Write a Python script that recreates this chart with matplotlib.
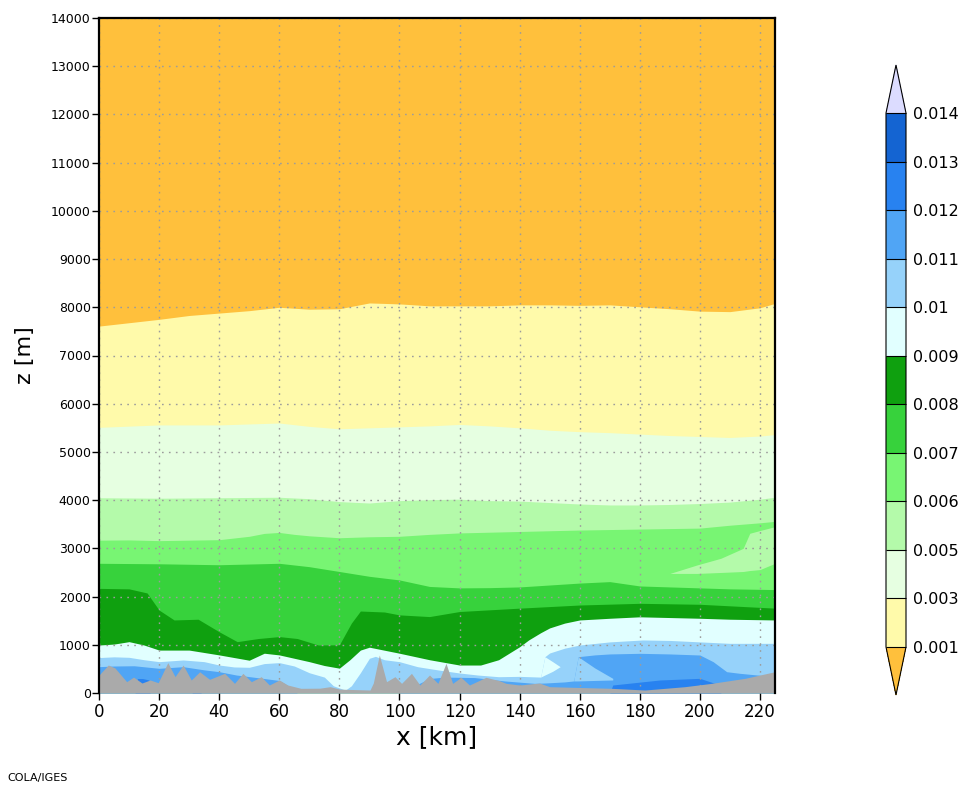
import matplotlib

matplotlib.use("Agg")
import matplotlib.pyplot as plt
from matplotlib.colors import ListedColormap, BoundaryNorm
from matplotlib.cm import ScalarMappable

# contour levels of the colour bar (0.004 is not used)
levels = [0.001, 0.003, 0.005, 0.006, 0.007, 0.008, 0.009, 0.010, 0.011, 0.012, 0.013, 0.014]
level_labels = ["0.001", "0.003", "0.005", "0.006", "0.007", "0.008", "0.009",
                "0.01", "0.011", "0.012", "0.013", "0.014"]
band_colors = ["#fffaaa", "#e6ffe1", "#b4faaa", "#78f573", "#37d23c", "#0fa00f",
               "#e1ffff", "#96d2fa", "#50a5f5", "#2882f0", "#1464d2"]
under_color = "#ffc03c"
over_color = "#dcdcff"
terrain_color = "#aaaaaa"

# heights (m) of each contour line along x (km)
b001_x = [0, 10, 20, 30, 40, 50, 60, 70, 80, 90, 100, 110, 120, 130, 140, 150, 160, 170, 180, 190, 200, 210, 220, 225]
b001_z = [7610, 7680, 7750, 7830, 7880, 7930, 8000, 7960, 7970, 8090, 8070, 8030, 8030, 8030, 8050, 8050, 8040, 8050, 8010, 7970, 7920, 7910, 7990, 8080]

b003_x = [0, 20, 40, 60, 70, 80, 90, 100, 110, 120, 130, 140, 150, 160, 170, 180, 190, 200, 210, 220, 225]
b003_z = [5510, 5560, 5560, 5600, 5530, 5480, 5500, 5520, 5540, 5570, 5540, 5500, 5450, 5420, 5400, 5370, 5340, 5320, 5300, 5330, 5360]

b005_x = [0, 20, 40, 60, 70, 80, 90, 100, 110, 120, 130, 140, 150, 160, 170, 180, 190, 200, 210, 220, 225]
b005_z = [4050, 4040, 4050, 4060, 4030, 3970, 3940, 3990, 4010, 4020, 3990, 3980, 3950, 3920, 3900, 3900, 3910, 3930, 3960, 4020, 4060]

b006_x = [0, 10, 20, 30, 40, 50, 55, 60, 65, 70, 80, 90, 100, 110, 120, 140, 160, 180, 200, 210, 220, 225]
b006_z = [3170, 3175, 3160, 3170, 3180, 3250, 3310, 3330, 3290, 3260, 3220, 3240, 3250, 3290, 3320, 3350, 3380, 3400, 3420, 3480, 3530, 3560]

# drier patch (0.005-0.006) inside the 0.006-0.007 band on the right
patch_x = [190, 199, 207, 214.4, 216.6, 220, 225]
patch_top = [2480, 2655, 2795, 3000, 3313, 3370, 3450]
patch_bottom = [2480, 2480, 2500, 2520, 2540, 2560, 2690]

b007_x = [0, 20, 40, 60, 70, 80, 90, 100, 110, 120, 130, 140, 150, 160, 170, 180, 190, 200, 210, 225]
b007_z = [2690, 2680, 2660, 2690, 2620, 2520, 2420, 2345, 2210, 2180, 2185, 2200, 2240, 2280, 2310, 2220, 2200, 2180, 2160, 2145]

b008_x = [0, 10, 16, 20, 25, 33, 40, 46, 53, 60, 66, 73, 80, 84, 87, 95, 100, 110, 120, 140, 160, 180, 200, 225]
b008_z = [2170, 2160, 2075, 1720, 1515, 1530, 1270, 1065, 1130, 1170, 1130, 995, 1000, 1450, 1700, 1680, 1620, 1585, 1690, 1760, 1825, 1860, 1840, 1760]

b009_x = [0, 5, 10, 15, 20, 30, 40, 50, 55, 60, 70, 75, 80, 83.5, 87, 90, 100, 110, 120, 127, 133, 140, 143, 147, 150, 155, 160, 170, 180, 200, 210, 225]
b009_z = [995, 1015, 1065, 995, 890, 890, 790, 680, 825, 790, 650, 570, 515, 690, 890, 950, 825, 690, 580, 580, 690, 960, 1100, 1250, 1350, 1450, 1515, 1550, 1580, 1550, 1530, 1515]

b010_x = [0, 5, 10, 15, 20, 28, 35, 40, 45, 50, 55, 60, 65, 70, 75, 78, 82, 84, 87, 90, 92, 95, 100, 106, 113, 120, 126, 133, 140, 147, 148.4, 150, 155, 160, 170, 181, 190, 200, 210, 225]
b010_z = [735, 750, 740, 690, 650, 685, 650, 580, 540, 533, 610, 630, 560, 420, 330, 150, 60, 150, 420, 720, 760, 690, 650, 546, 477, 415, 373, 338, 345, 330, 753, 830, 930, 995, 1060, 1100, 1090, 1060, 1030, 1030]

# moist tongue (0.009-0.010) reaching under the 0.010 line near 150 km
tongue_x = [147, 148.4, 151, 153.5]
tongue_top = [330, 753, 650, 546]
tongue_bottom = [330, 373, 450, 546]

b011_x = [0, 5, 11.7, 20, 28, 35, 40, 45.7, 50, 55, 60, 63, 66, 100, 105, 110, 115, 125, 135, 145, 148.4, 155, 158, 159.5, 165, 170, 180, 190, 200, 204.4, 208.9, 213.3, 225]
b011_z = [546, 560, 565, 512, 546, 480, 442, 373, 340, 300, 260, 150, 0, 0, 150, 300, 330, 320, 250, 200, 207, 230, 250, 753, 790, 810, 823, 810, 788, 650, 442, 408, 338]

# 0.010-0.011 wedge left of the 0.011 region
wedge_x = [158, 159.5, 165, 171]
wedge_top = [250, 753, 520, 304]
wedge_bottom = [250, 250, 260, 270]

b012_x = [0, 12, 12.8, 14.5, 16.6, 17, 31, 31.5, 32.5, 33.3, 34, 170, 171, 186.7, 200, 203.3, 206.6, 207, 225]
b012_z = [0, 0, 300, 300, 270, 0, 0, 320, 330, 300, 0, 0, 166, 270, 304, 235, 166, 0, 0]

terrain_x = [0, 3.1, 5.3, 9.2, 11.5, 14.3, 17, 19.7, 22.9, 25.3, 28, 30.7, 33.5, 36.8, 41.8, 45.1, 47.9, 50.7, 54, 56.7,
             60, 62.8, 67.2, 73.5, 76.9, 80.2, 90.2, 91.3, 93.3, 95.7, 98.5, 100.7, 104, 106.8, 110, 112.8, 115.5, 117.7,
             120.5, 123.3, 128.8, 133.3, 135.5, 140, 146.6, 150, 170.6, 181.7, 195, 203.9, 215, 225]
terrain_z = [373, 580, 520, 235, 330, 207, 270, 214, 630, 340, 580, 270, 440, 284, 408, 200, 408, 235, 338, 166,
             270, 166, 97, 100, 131, 80, 62, 207, 788, 235, 338, 200, 408, 166, 373, 200, 616, 200,
             325, 166, 325, 255, 200, 166, 207, 131, 97, 62, 131, 200, 304, 442]

x_ticks = list(range(0, 221, 20))
z_ticks = list(range(0, 14001, 1000))

fig = plt.figure(figsize=(9.68, 7.89), dpi=100)
ax = fig.add_axes([99 / 968, 96 / 789, 676 / 968, 675 / 789])

# paint from the top (driest) band downwards, each layer covering the one before
ax.fill_between([0, 225], 0, 14000, color=under_color, lw=0)
ax.fill_between(b001_x, 0, b001_z, color=band_colors[0], lw=0)
ax.fill_between(b003_x, 0, b003_z, color=band_colors[1], lw=0)
ax.fill_between(b005_x, 0, b005_z, color=band_colors[2], lw=0)
ax.fill_between(b006_x, 0, b006_z, color=band_colors[3], lw=0)
ax.fill_between(patch_x, patch_bottom, patch_top, color=band_colors[2], lw=0)
ax.fill_between(b007_x, 0, b007_z, color=band_colors[4], lw=0)
ax.fill_between(b008_x, 0, b008_z, color=band_colors[5], lw=0)
ax.fill_between(b009_x, 0, b009_z, color=band_colors[6], lw=0)
ax.fill_between(b010_x, 0, b010_z, color=band_colors[7], lw=0)
ax.fill_between(tongue_x, tongue_bottom, tongue_top, color=band_colors[6], lw=0)
ax.fill_between(b011_x, 0, b011_z, color=band_colors[8], lw=0)
ax.fill_between(wedge_x, wedge_bottom, wedge_top, color=band_colors[7], lw=0)
ax.fill_between(b012_x, 0, b012_z, color=band_colors[9], lw=0)
ax.fill_between(terrain_x, 0, terrain_z, color=terrain_color, lw=0, zorder=2.6)

ax.set_xlim(0, 225)
ax.set_ylim(0, 14000)
ax.set_xticks(x_ticks)
ax.set_yticks(z_ticks)
ax.grid(True, color="#9c9c9c", linestyle=(0, (1.2, 3.8)), linewidth=1.0)
ax.set_axisbelow(False)
ax.tick_params(axis="both", direction="out", length=5, width=1, colors="black")
ax.tick_params(axis="x", labelsize=12, pad=2)
ax.tick_params(axis="y", labelsize=9, pad=1)
for side in ["top", "left", "right"]:
    ax.spines[side].set_linewidth(1.6)
    ax.spines[side].set_zorder(3)
ax.spines["bottom"].set_visible(False)

ax.set_xlabel("x [km]", fontsize=18)
ax.set_ylabel("z [m]", fontsize=16)
ax.xaxis.set_label_coords(0.5, -0.048)
ax.yaxis.set_label_coords(-0.095, 0.5)

# colour bar: the axes holds the boxes plus both end triangles
cmap = ListedColormap(band_colors)
cmap.set_under(under_color)
cmap.set_over(over_color)
norm = BoundaryNorm(levels, cmap.N)
cax = fig.add_axes([886 / 968, (789 - 695) / 789, 20 / 968, 630 / 789])
cbar = fig.colorbar(ScalarMappable(norm=norm, cmap=cmap), cax=cax, extend="both",
                    extendfrac=0.09, drawedges=True, ticks=levels)
cbar.ax.set_yticklabels(level_labels)
cbar.ax.tick_params(length=0, pad=5, labelsize=11.5)
cbar.outline.set_linewidth(0.8)
cbar.dividers.set_linewidth(0.8)

fig.text(7 / 968, 1 - 778 / 789, "COLA/IGES", fontsize=8, va="center", ha="left")

fig.savefig("out.png", dpi=100)
